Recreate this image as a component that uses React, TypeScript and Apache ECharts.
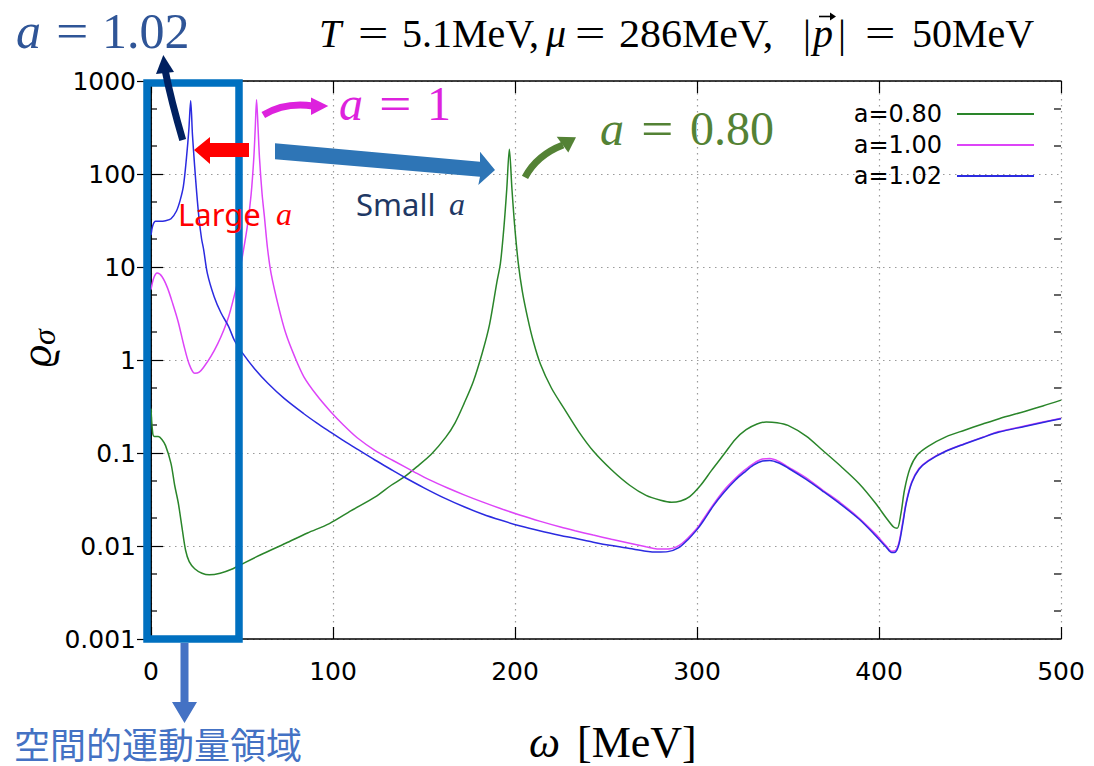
import React, { useEffect, useRef } from 'react';
import * as echarts from 'echarts';

// Spectral function ϱσ(ω) at T = 5.1 MeV, μ = 286 MeV, |p| = 50 MeV, for three couplings a.
// Each entry is [ω (MeV), ϱσ].
const curveA080: [number, number][] = [
  [0, 0.3], [1, 0.16], [2, 0.15], [4, 0.15], [6, 0.14], [8, 0.12], [11, 0.077], [13, 0.045],
  [15, 0.029], [17, 0.016], [19, 0.009], [21, 0.0068], [24, 0.0057], [28, 0.0051], [32, 0.0049],
  [38, 0.0051], [45, 0.0057], [50, 0.0064], [60, 0.008], [74, 0.0107], [86, 0.0138], [98, 0.0174],
  [110, 0.024], [123, 0.0335], [132, 0.045], [139, 0.055], [146, 0.071], [154, 0.097], [162, 0.148],
  [167, 0.21], [172, 0.34], [177, 0.58], [182, 1.19], [186, 2.4], [190, 6.8], [192, 11], [194, 28],
  [195.5, 70], [196.9, 185], [198.3, 70], [199.8, 28], [201.8, 11], [204, 5.5], [207, 2.8], [210, 1.6],
  [214, 0.9], [220, 0.5], [227, 0.3], [235, 0.17], [243, 0.105], [253, 0.066], [263, 0.045],
  [272, 0.035], [280, 0.031], [286, 0.0295], [291, 0.0305], [296, 0.034], [302, 0.045], [308, 0.065],
  [315, 0.098], [321, 0.14], [327, 0.178], [333, 0.205], [338, 0.216], [344, 0.212], [350, 0.198],
  [360, 0.152], [369, 0.107], [379, 0.072], [389, 0.047], [398, 0.029], [404, 0.02], [408, 0.016],
  [410, 0.0155], [412, 0.022], [414, 0.04], [417, 0.068], [421, 0.095], [427, 0.118], [437, 0.15],
  [447, 0.176], [457, 0.205], [466, 0.234], [480, 0.28], [490, 0.32], [500, 0.37],
];

const curveA100: [number, number][] = [
  [0, 5.7], [1.5, 7.6], [3.4, 8.6], [6, 7.9], [9, 6.0], [12, 4.0], [15, 2.55], [18, 1.45],
  [21, 0.9], [24, 0.72], [26.5, 0.74], [29, 0.84], [33, 1.1], [36.7, 1.5], [40, 2.1],
  [42.6, 2.9], [45, 4.3], [47.5, 6.8], [50.5, 14], [53, 28], [55, 60], [56.5, 150], [57.3, 320],
  [58, 630], [58.8, 320], [59.6, 150], [61, 62], [62.3, 35], [64, 16], [66, 8.5], [70, 3.8],
  [74, 1.95], [79, 1.08], [84, 0.66], [91, 0.42], [98.6, 0.28], [106, 0.198], [113.3, 0.146],
  [123, 0.107], [133, 0.083], [145, 0.062], [152.5, 0.052], [163, 0.042], [172, 0.0355], [182, 0.0298],
  [192, 0.0253], [203, 0.0214], [214, 0.0184], [225, 0.016], [233, 0.0146], [243, 0.0131], [253, 0.0118],
  [263, 0.0107], [272, 0.0098], [278, 0.0093], [284, 0.0093], [290, 0.0101], [295, 0.0122], [300, 0.0155],
  [303, 0.0188], [309, 0.028], [315, 0.04], [321, 0.053], [326, 0.065], [331, 0.077], [336, 0.086],
  [340, 0.087], [345, 0.081], [350, 0.071], [360, 0.054], [369, 0.04], [379, 0.029], [389, 0.02],
  [398, 0.0135], [404, 0.01], [407, 0.0088], [409, 0.0089], [411, 0.011], [413, 0.018], [415, 0.03],
  [418, 0.049], [422, 0.068], [427, 0.083], [437, 0.106], [447, 0.126], [457, 0.148], [466, 0.17],
  [480, 0.195], [490, 0.215], [500, 0.236],
];

const curveA102: [number, number][] = [
  [0, 22], [1, 28], [2.5, 31], [5, 31], [8, 31.5], [11, 33], [14, 40], [16, 52], [17.8, 74],
  [19.5, 150], [20.8, 300], [21.8, 613], [22.8, 260], [24, 120], [25.1, 63], [26.4, 33], [27.8, 20],
  [28.9, 15.5], [31, 8.5], [34.7, 4.8], [38.5, 3.2], [42.6, 2.3], [46, 1.6], [50.5, 1.17], [57, 0.8],
  [64.2, 0.562], [73, 0.389], [83.8, 0.266], [91, 0.211], [98.6, 0.168], [106, 0.135], [113.3, 0.11],
  [123, 0.0841], [133, 0.0646], [139, 0.0552], [150, 0.0422], [161, 0.0329], [172, 0.0264], [182, 0.0221],
  [192, 0.019], [203, 0.0164], [214, 0.0145], [225, 0.013], [233, 0.0121], [243, 0.011], [253, 0.0101],
  [263, 0.0094], [272, 0.0088], [278, 0.0086], [284, 0.0087], [290, 0.0096], [295, 0.0117], [300, 0.015],
  [303, 0.018], [309, 0.027], [315, 0.038], [321, 0.051], [326, 0.062], [331, 0.074], [336, 0.082],
  [340, 0.083], [345, 0.078], [350, 0.069], [360, 0.052], [369, 0.039], [379, 0.028], [389, 0.0195],
  [398, 0.013], [404, 0.0097], [407, 0.0085], [409, 0.0086], [411, 0.0105], [413, 0.017], [415, 0.029],
  [418, 0.048], [422, 0.067], [427, 0.082], [437, 0.105], [447, 0.125], [457, 0.147], [466, 0.168],
  [480, 0.193], [490, 0.213], [500, 0.234],
];

const seriesNames = ['a=0.80', 'a=1.00', 'a=1.02'];
const seriesColors = ['#2A852A', '#DD44F8', '#2B2BE0'];
const yTickLabels = ['0.001', '0.01', '0.1', '1', '10', '100', '1000'];
const minorTickValues = [
  0.002, 0.005, 0.02, 0.05, 0.2, 0.5, 2, 5, 20, 50, 200, 500,
];

const SERIF = '"Liberation Serif", "DejaVu Serif", serif';
const SANS = '"Noto Sans", "DejaVu Sans", sans-serif';
const CJK = '"Noto Sans CJK JP", "Noto Sans CJK SC", sans-serif';
const TICK_FONT = '"DejaVu Sans", Verdana, sans-serif';

// text placed by its baseline; scaleX widens glyphs such as '='
function label(
  text: string, x: number, baseline: number, size: number, fill: string, family: string,
  italic = false, scaleX = 1,
) {
  return {
    type: 'text',
    x,
    y: baseline - 0.34 * size,
    scaleX,
    z: 100,
    silent: true,
    style: {
      text,
      fill,
      fontSize: size,
      fontFamily: family,
      fontStyle: italic ? 'italic' : 'normal',
      lineHeight: Math.round(size * 1.1),
      align: 'left',
      verticalAlign: 'middle',
    },
  };
}

function buildGraphics() {
  const g: any[] = [];
  // title
  const tColor = '#000';
  const tb = 47;
  const ts = 40;
  g.push(label('T', 319, tb, ts, tColor, SERIF, true));
  g.push(label('=', 358, tb, ts, tColor, SERIF, false, 1.35));
  g.push(label('5.1MeV,', 402, tb, ts, tColor, SERIF));
  g.push(label('μ', 546, tb, ts, tColor, SERIF, true));
  g.push(label('=', 575, tb, ts, tColor, SERIF, false, 1.35));
  g.push(label('286MeV,', 619, tb, ts, tColor, SERIF, false, 1.05));
  g.push(label('|', 803, tb, ts, tColor, SERIF));
  g.push(label('p', 813, tb, ts, tColor, SERIF, true));
  g.push(label('|', 838, tb, ts, tColor, SERIF));
  g.push(label('=', 865, tb, ts, tColor, SERIF, false, 1.35));
  g.push(label('50MeV', 912, tb, ts, tColor, SERIF));
  // vector arrow over p
  g.push({
    type: 'line',
    z: 100,
    silent: true,
    shape: { x1: 819, y1: 16.5, x2: 832, y2: 16.5 },
    style: { stroke: tColor, lineWidth: 1.6 },
  });
  g.push({
    type: 'polygon',
    z: 100,
    silent: true,
    shape: { points: [[836, 16.5], [830, 12.5], [830, 20.5]] },
    style: { fill: tColor },
  });

  // a = 1.02
  const c102 = '#2F5597';
  g.push(label('a', 16, 48, 50, c102, SERIF, true));
  g.push(label('=', 56, 48, 50, c102, SERIF, false, 1.15));
  g.push(label('1.02', 102, 48, 50, c102, SERIF));

  // a = 1
  const c100 = '#DD22DD';
  g.push(label('a', 339, 120, 48, c100, SERIF, true));
  g.push(label('=', 379, 120, 48, c100, SERIF, false, 1.2));
  g.push(label('1', 427, 120, 48, c100, SERIF));

  // a = 0.80
  const c080 = '#548235';
  g.push(label('a', 600, 145, 48, c080, SERIF, true));
  g.push(label('=', 641, 145, 48, c080, SERIF, false, 1.2));
  g.push(label('0.80', 690, 145, 48, c080, SERIF));

  // Large a / Small a
  g.push(label('Large', 178, 225, 31, '#FF0000', SANS));
  g.push(label('a', 276, 225, 32, '#FF0000', SERIF, true));
  g.push(label('Small', 356, 215, 31, '#1F3864', SANS));
  g.push(label('a', 449, 215, 32, '#1F3864', SERIF, true));

  // region caption
  g.push(label('空間的運動量領域', 14, 755, 36, '#4472C4', CJK));

  // x-axis title
  g.push(label('ω', 529, 757, 44, '#000', SERIF, true));
  g.push(label('[MeV]', 577, 757, 44, '#000', SERIF));

  // y-axis title, rotated
  g.push({
    type: 'group',
    x: 36,
    y: 345,
    rotation: Math.PI / 2,
    z: 100,
    silent: true,
    children: [
      {
        type: 'text',
        x: -22,
        y: 0,
        style: { text: 'ϱ', fill: '#000', fontSize: 44, fontFamily: SERIF, fontStyle: 'italic', align: 'left', verticalAlign: 'middle' },
      },
      {
        type: 'text',
        x: 0,
        y: 8,
        style: { text: 'σ', fill: '#000', fontSize: 32, fontFamily: SERIF, fontStyle: 'italic', align: 'left', verticalAlign: 'middle' },
      },
    ],
  });

  // highlighted low-ω region
  g.push({
    type: 'rect',
    z: 90,
    silent: true,
    shape: { x: 147, y: 83, width: 92, height: 556 },
    style: { fill: 'none', stroke: '#0070C0', lineWidth: 7.5 },
  });
  // arrow from the region to its caption
  g.push({
    type: 'polygon',
    z: 90,
    silent: true,
    shape: { points: [[180.5, 643], [188.5, 643], [188.5, 702], [197, 702], [184.5, 723], [172, 702], [180.5, 702]] },
    style: { fill: '#4472C4' },
  });

  // red arrow: peak moves left for large a
  g.push({
    type: 'polygon',
    z: 95,
    silent: true,
    shape: { points: [[194, 150], [210, 137], [210, 143], [249, 143], [249, 157], [210, 157], [210, 164]] },
    style: { fill: '#FF0000' },
  });

  // blue arrow: peak moves right for small a
  g.push({
    type: 'polygon',
    z: 95,
    silent: true,
    shape: { points: [[275, 143.3], [480, 161.7], [480, 151.7], [495, 170], [478.3, 185], [480, 176.7], [275, 159.3]] },
    style: { fill: '#2E75B6' },
  });

  // curved pointer to the a = 1.02 label
  g.push({
    type: 'bezierCurve',
    z: 95,
    silent: true,
    shape: { x1: 182.7, y1: 140, cpx1: 171, cpy1: 100, x2: 165.5, y2: 72 },
    style: { stroke: '#002060', lineWidth: 7, fill: 'none' },
  });
  g.push({
    type: 'polygon',
    z: 95,
    silent: true,
    shape: { points: [[163.3, 55], [174, 72], [156, 74]] },
    style: { fill: '#002060' },
  });

  // curved pointer to the a = 1 label
  g.push({
    type: 'bezierCurve',
    z: 95,
    silent: true,
    shape: { x1: 263.3, y1: 115, cpx1: 285, cpy1: 102, x2: 313, y2: 106 },
    style: { stroke: '#DD22DD', lineWidth: 7, fill: 'none' },
  });
  g.push({
    type: 'polygon',
    z: 95,
    silent: true,
    shape: { points: [[328.3, 106], [311, 97.5], [311, 115]] },
    style: { fill: '#DD22DD' },
  });

  // curved pointer to the a = 0.80 label
  g.push({
    type: 'bezierCurve',
    z: 95,
    silent: true,
    shape: { x1: 525, y1: 177.3, cpx1: 537, cpy1: 155, x2: 563, y2: 145 },
    style: { stroke: '#548235', lineWidth: 7, fill: 'none' },
  });
  g.push({
    type: 'polygon',
    z: 95,
    silent: true,
    shape: { points: [[576, 137.3], [556.7, 136.7], [568.3, 152.5]] },
    style: { fill: '#548235' },
  });

  return g;
}

const curves = [curveA080, curveA100, curveA102];

export default function App() {
  const ref = useRef<HTMLDivElement>(null);

  useEffect(() => {
    if (!ref.current) return;
    const chart = echarts.init(ref.current, null, { renderer: 'svg' });

    const axisLine = { show: true, lineStyle: { color: '#000', width: 1.5 } };
    const gridDots = { show: true, lineStyle: { color: '#9a9a9a', width: 1.2, type: [1.5, 4.5] as any } };

    const lineSeries = curves.map((data, i) => ({
      name: seriesNames[i],
      type: 'line',
      data,
      xAxisIndex: 0,
      yAxisIndex: 0,
      showSymbol: false,
      symbol: 'none',
      smooth: 0.3,
      lineStyle: { color: seriesColors[i], width: 1.5 },
      itemStyle: { color: seriesColors[i] },
      z: 3 + i,
    }));

    const minorTicks = {
      type: 'custom',
      name: 'minor',
      xAxisIndex: 0,
      yAxisIndex: 0,
      silent: true,
      z: 2,
      data: minorTickValues.map((v) => [0, v]),
      encode: { x: 0, y: 1 },
      renderItem: (_p: any, api: any) => {
        const v = api.value(1);
        const l = api.coord([0, v]);
        const r = api.coord([500, v]);
        return {
          type: 'group',
          children: [
            { type: 'line', shape: { x1: l[0], y1: l[1], x2: l[0] + 6, y2: l[1] }, style: { stroke: '#000', lineWidth: 1.2 } },
            { type: 'line', shape: { x1: r[0] - 7, y1: r[1], x2: r[0], y2: r[1] }, style: { stroke: '#000', lineWidth: 1.2 } },
          ],
        };
      },
    };

    chart.setOption({
      animation: false,
      backgroundColor: '#fff',
      grid: { left: 151, right: 33, top: 81, bottom: 127, containLabel: false },
      legend: {
        data: seriesNames.map((name) => ({ name, icon: 'rect' })),
        orient: 'vertical',
        right: 55,
        top: 97,
        align: 'right',
        itemWidth: 77,
        itemHeight: 2,
        itemGap: 7,
        textStyle: { fontFamily: TICK_FONT, fontSize: 24, color: '#000', padding: [0, 10, 0, 0] },
      },
      xAxis: [
        {
          type: 'value',
          min: 0,
          max: 500,
          interval: 100,
          axisLine,
          axisTick: { show: true, inside: true, length: 12, lineStyle: { color: '#000', width: 1.2 } },
          axisLabel: { fontFamily: TICK_FONT, fontSize: 25, color: '#000', margin: 20 },
          splitLine: gridDots,
        },
        {
          type: 'value',
          position: 'top',
          min: 0,
          max: 500,
          interval: 100,
          axisLine,
          axisTick: { show: true, inside: true, length: 12, lineStyle: { color: '#000', width: 1.2 } },
          axisLabel: { show: false },
          splitLine: { show: false },
        },
      ],
      yAxis: [
        {
          type: 'log',
          logBase: 10,
          min: 0.001,
          max: 1000,
          splitNumber: 6,
          axisLine,
          axisTick: { show: true, inside: true, length: 12, lineStyle: { color: '#000', width: 1.2 } },
          axisLabel: {
            fontFamily: TICK_FONT,
            fontSize: 25,
            color: '#000',
            margin: 15,
            formatter: (v: number) => yTickLabels[Math.round(Math.log10(v)) + 3] ?? '',
          },
          splitLine: gridDots,
        },
        {
          type: 'log',
          logBase: 10,
          min: 0.001,
          max: 1000,
          splitNumber: 6,
          position: 'right',
          axisLine,
          axisTick: { show: true, inside: true, length: 14, lineStyle: { color: '#000', width: 1.2 } },
          axisLabel: { show: false },
          splitLine: { show: false },
        },
      ],
      series: [minorTicks, ...lineSeries],
      graphic: buildGraphics(),
    });

    return () => chart.dispose();
  }, []);

  return (
    <div
      ref={ref}
      style={{ position: 'fixed', left: 0, top: 0, width: 1094, height: 766, background: '#fff' }}
    />
  );
}
